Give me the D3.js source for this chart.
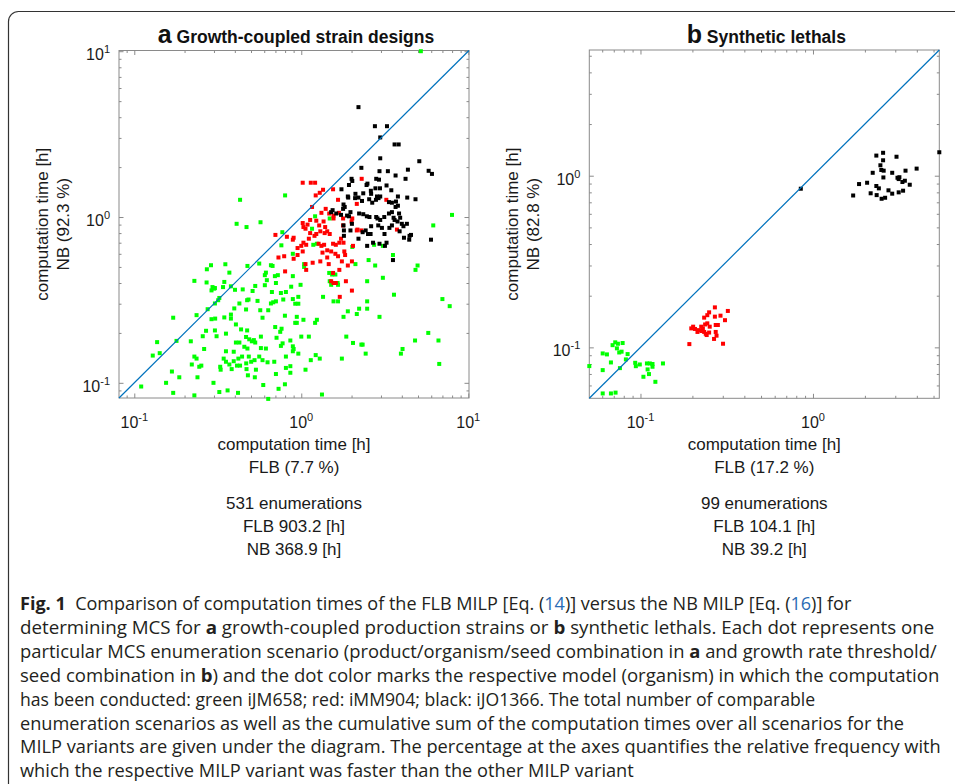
<!DOCTYPE html>
<html><head><meta charset="utf-8">
<script src="https://cdn.jsdelivr.net/npm/d3@7"></script>
<style>body{margin:0;background:#fff} svg{display:block}</style>
</head><body>
<svg id="c" width="955" height="784"></svg>
<script>
// ---------- DATA (hours: [FLB time, NB time]) ----------
const greenA = [
[0.43,1.27],[0.80,1.35],[0.41,0.91],[0.47,0.87],[0.57,0.93],
[5.2,10],[1.21,1.01],[1.48,0.98],[1.16,0.85],[7.99,1.03],[6.17,0.89],
[0.77,0.81],[0.76,0.675],[0.288,0.512],[0.272,0.484],[0.351,0.519],[0.371,0.462],[0.476,0.507],[0.56,0.524],[0.658,0.512],[0.673,0.507],[0.614,0.462],[0.605,0.446],[0.695,0.44],[0.724,0.446],[0.229,0.412],[0.271,0.403],[0.294,0.378],[0.301,0.37],[0.304,0.373],[0.29,0.361],[0.346,0.406],[0.34,0.378],[0.379,0.382],[0.401,0.364],[0.446,0.366],[0.53,0.384],[0.511,0.358],[0.605,0.388],[0.622,0.416],[0.705,0.4],[0.667,0.353],[0.809,0.353],
[0.323,0.325],[0.318,0.315],[0.304,0.301],[0.275,0.278],[0.236,0.256],[0.29,0.242],[0.305,0.244],[0.171,0.247],[0.379,0.258],[0.379,0.244],[0.346,0.248],[0.397,0.281],[0.426,0.301],[0.474,0.315],[0.483,0.318],[0.467,0.277],[0.547,0.312],[0.568,0.274],[0.586,0.247],[0.634,0.274],[0.658,0.301],[0.679,0.306],[0.705,0.31],[0.755,0.348],[0.78,0.318],[0.798,0.254],[0.698,0.217],
[0.257,0.191],[0.269,0.206],[0.304,0.207],[0.311,0.191],[0.354,0.198],[0.406,0.225],[0.436,0.21],[0.474,0.207],[0.218,0.178],[0.179,0.179],[0.137,0.176],[0.129,0.146],[0.142,0.151],[0.262,0.16],[0.406,0.175],[0.426,0.175],[0.467,0.189],[0.488,0.183],[0.506,0.178],[0.52,0.181],[0.53,0.175],[0.573,0.19],[0.573,0.162],[0.614,0.161],[0.711,0.187],[0.748,0.203],[0.762,0.212],[0.773,0.173],[0.755,0.167],
[0.354,0.155],[0.394,0.154],[0.456,0.165],[0.476,0.161],[0.485,0.144],[0.442,0.144],[0.42,0.14],[0.394,0.135],[0.343,0.14],[0.354,0.134],[0.371,0.129],[0.43,0.127],[0.468,0.131],[0.501,0.134],[0.525,0.137],[0.56,0.144],[0.586,0.137],[0.628,0.133],[0.689,0.134],[0.809,0.144],[0.809,0.123],[0.705,0.113],[0.535,0.12],[0.479,0.111],[0.47,0.121],[0.412,0.127],[0.327,0.125],[0.329,0.12],[0.383,0.121],[0.229,0.144],[0.236,0.14],[0.221,0.129],[0.245,0.125],[0.252,0.127],[0.168,0.117],[0.186,0.108],[0.155,0.1],[0.11,0.095],[0.171,0.087],[0.229,0.084],[0.239,0.108],[0.298,0.1],[0.323,0.088],[0.362,0.09],[0.418,0.087],[0.527,0.108],[0.592,0.097],[0.731,0.092],[0.798,0.098],[0.634,0.08],
[2.73,0.68],[3.08,0.67],[3.54,0.59],[2.53,0.55],[2.77,0.51],[2.11,0.52],[4.97,0.51],[4.83,0.48],[3.08,0.43],[2.48,0.41],[1.47,0.46],[1.53,0.45],[1.6,0.45],[1.48,0.41],[1.51,0.39],[1.66,0.39],[1.65,0.4],[0.89,0.6],[1.04,0.52],[1.04,0.5],[1.24,0.69],[1.18,0.68],[2.02,0.66],[0.89,0.44],[0.87,0.38],[0.99,0.39],[0.96,0.33],[0.89,0.32],[0.96,0.3],[0.92,0.3],[1.35,0.33],[1.56,0.31],[1.66,0.31],[2.48,0.31],[3.59,0.34],[7.0,0.32],[7.74,0.29],[1.9,0.27],[1.79,0.25],[2.22,0.28],[2.15,0.26],[2.48,0.28],[2.94,0.25],[0.94,0.25],[1.03,0.24],[0.92,0.23],[0.94,0.23],[1.21,0.23],[1.24,0.24],[5.76,0.2],[6.63,0.18],[1.0,0.19],[1.11,0.19],[1.86,0.19],[0.86,0.18],[2.04,0.174],[2.29,0.17],[2.33,0.17],[4.8,0.18],[4.04,0.16],[3.95,0.15],[2.43,0.15],[0.89,0.166],[0.9,0.16],[0.89,0.155],[0.96,0.15],[1.22,0.147],[1.29,0.14],[1.14,0.137],[1.75,0.14],[6.7,0.13],[0.86,0.126],[0.86,0.115],[1.06,0.12],[1.33,0.085]
];
const redA = [
[1.02,1.61],[1.14,1.61],[1.21,1.61],[1.35,1.46],[1.29,1.4],[1.22,1.35],[1.55,1.47],[1.66,1.27],[1.16,1.15],[1.4,1.12],[1.32,1.06],[2.15,1.2],[1.47,1.05],[1.56,1.02],[1.68,1.06],[1.56,0.98],[1.02,0.92],[1.09,0.9],[1.13,0.96],[1.23,0.95],[1.28,0.89],[1.36,0.94],[1.39,0.87],[1.78,0.98],[2.02,0.98],[2.0,0.94],[1.78,0.89],[1.06,0.85],[1.03,0.87],[2.17,0.84],[2.3,1.7],[3.23,1.27],
[0.89,0.73],[0.9,0.75],[1.03,0.7],[1.07,0.68],[1.0,0.67],[1.11,0.74],[1.13,0.8],[1.2,0.77],[1.23,0.79],[1.3,0.82],[1.38,0.8],[1.43,0.82],[1.48,0.79],[1.27,0.69],[1.32,0.67],[1.37,0.68],[1.43,0.63],[1.34,0.61],[1.55,0.69],[1.61,0.68],[1.73,0.74],[1.69,0.7],[1.79,0.7],[2.04,0.67],[1.51,0.62],[1.6,0.6],[1.66,0.58],[1.81,0.62],[1.83,0.59],[0.95,0.59],[0.9,0.56],[1.02,0.62],[1.06,0.52],[1.07,0.48],[1.17,0.53],[1.3,0.54],[1.75,0.54],[1.9,0.51],[2.01,0.54],[1.43,0.57],[1.46,0.52],[1.69,0.48],[1.55,0.46],[1.51,0.41],[1.56,0.4],[1.61,0.4],[1.85,0.41],[2.01,0.36],[1.7,0.33],[3.74,0.84],[2.15,0.83],[2.29,0.83],
[0.7,0.78],[0.73,0.57],[0.79,0.58],[0.8,0.47],[0.95,0.65],[0.82,0.76]
];
const blackA = [
[2.2,4.6],[2.76,3.53],[3.26,3.53],[2.97,3.02],[3.62,2.74],[3.83,2.74],[2.97,2.26],[5.09,2.17],[5.79,1.9],[6.06,1.82],[2.29,1.98],[4.35,1.93],[2.94,1.89],[3.3,1.89],[3.67,1.78],[4.21,1.7],[2.0,1.7],[2.02,1.65],[2.81,1.7],[2.92,1.68],[2.49,1.59],[2.46,1.56],[1.93,1.56],[3.24,1.55],[1.74,1.47],[2.78,1.49],[2.96,1.49],[3.46,1.45],[2.11,1.38],[2.35,1.39],[1.9,1.33],[1.91,1.31],[2.61,1.44],[2.62,1.38],[2.84,1.33],[2.9,1.3],[2.97,1.33],[2.8,1.27],[3.79,1.33],[4.31,1.31],[4.83,1.28],[2.1,1.3],[2.2,1.31],[2.31,1.25],[2.55,1.28],[2.66,1.22],[3.35,1.23],[3.49,1.22],[3.69,1.24],[3.79,1.17],[3.67,1.15],[1.79,1.19],[1.82,1.15],[1.78,1.12],[1.54,1.1],[1.51,1.07],[1.62,1.05],[1.73,1.03],[1.88,1.02],[1.97,1.07],[1.93,1.01],[2.22,1.05],[2.35,1.04],[2.47,1.01],[2.56,1.0],[2.81,1.0],[2.86,0.98],[2.97,0.96],[3.14,1.0],[3.35,1.05],[3.49,1.07],[3.57,0.99],[3.62,0.96],[3.85,1.05],[3.91,0.99],[3.77,0.94],[4.0,0.91],[4.29,0.91],[4.09,0.88],[2.62,0.88],[2.89,0.89],[3.04,0.86],[3.37,0.86],[3.49,0.89],[1.79,0.89],[2.01,0.91],
[1.8,0.83],[1.97,0.83],[1.8,0.77],[2.33,0.81],[2.43,0.83],[2.51,0.79],[2.6,0.79],[2.2,0.74],[3.15,0.79],[3.88,0.82],[4.12,0.75],[4.45,0.77],[4.54,0.78],[4.43,0.73],[5.98,0.73],[2.48,0.67],[2.69,0.7],[2.94,0.69],[3.24,0.7],[3.17,0.67],[3.54,0.55]
];
const greenB = [
[0.0505,0.0778],[0.0604,0.0922],[0.0639,0.091],[0.0604,0.0737],[0.0674,0.0817],[0.0689,0.103],[0.0714,0.107],[0.074,0.105],[0.0788,0.106],[0.073,0.0987],[0.0753,0.0934],[0.0777,0.0944],[0.0842,0.0914],[0.0823,0.0851],[0.076,0.0757],[0.0932,0.0813],[0.094,0.0777],[0.0991,0.0795],[0.109,0.0806],[0.1133,0.0806],[0.1174,0.08],[0.11,0.0744],[0.1174,0.0771],[0.112,0.0699],[0.104,0.0674],[0.122,0.063],[0.135,0.0806],[0.0604,0.0539],[0.0674,0.0539],[0.0717,0.0545]
];
const redB = [
[0.192,0.1045],[0.197,0.129],[0.202,0.132],[0.207,0.128],[0.214,0.123],[0.218,0.126],[0.225,0.132],[0.23,0.129],[0.237,0.136],[0.244,0.138],[0.226,0.1245],[0.234,0.123],[0.239,0.12],[0.242,0.118],[0.25,0.122],[0.234,0.149],[0.244,0.154],[0.25,0.16],[0.27,0.171],[0.27,0.151],[0.273,0.135],[0.281,0.135],[0.291,0.153],[0.309,0.144],[0.321,0.163],[0.273,0.123],[0.276,0.117],[0.267,0.112],[0.301,0.105],[0.252,0.132]
];
const blackB = [
[0.85,0.84],[5.4,1.37],[1.71,0.767],[1.85,0.894],[2.06,0.91],[2.16,0.79],[2.33,1.31],[2.55,1.36],[2.55,1.23],[2.46,1.15],[2.49,1.08],[2.57,1.07],[2.22,1.04],[2.33,0.871],[2.41,0.844],[2.34,0.771],[2.5,0.734],[2.62,0.744],[2.56,0.977],[2.74,0.822],[2.88,0.786],[2.88,1.04],[3.05,1.29],[3.09,0.973],[3.14,0.956],[3.17,0.98],[3.3,0.919],[3.41,0.935],[3.14,0.8],[3.33,0.818],[3.44,1.07],[3.64,0.886],[3.99,1.1]
];
const domainA = [0.081, 10.1];
const domainB = [0.0505, 5.4];
const titleA = ["a", "Growth-coupled strain designs"];
const titleB = ["b", "Synthetic lethals"];
const yLabelA = ["computation time [h]", "NB (92.3 %)"];
const yLabelB = ["computation time [h]", "NB (82.8 %)"];
const xLabelA = ["computation time [h]", "FLB (7.7 %)"];
const xLabelB = ["computation time [h]", "FLB (17.2 %)"];
const summaryA = ["531 enumerations", "FLB 903.2 [h]", "NB 368.9 [h]"];
const summaryB = ["99 enumerations", "FLB 104.1 [h]", "NB 39.2 [h]"];
const captionLines = [
  [{t:"Fig. 1", b:1},{t:"  Comparison of computation times of the FLB MILP [Eq. ("},{t:"14",c:1},{t:")] versus the NB MILP [Eq. ("},{t:"16",c:1},{t:")] for"}],
  [{t:"determining MCS for "},{t:"a",b:1},{t:" growth-coupled production strains or "},{t:"b",b:1},{t:" synthetic lethals. Each dot represents one"}],
  [{t:"particular MCS enumeration scenario (product/organism/seed combination in "},{t:"a",b:1},{t:" and growth rate threshold/"}],
  [{t:"seed combination in "},{t:"b",b:1},{t:") and the dot color marks the respective model (organism) in which the computation"}],
  [{t:"has been conducted: green iJM658; red: iMM904; black: iJO1366. The total number of comparable"}],
  [{t:"enumeration scenarios as well as the cumulative sum of the computation times over all scenarios for the"}],
  [{t:"MILP variants are given under the diagram. The percentage at the axes quantifies the relative frequency with"}],
  [{t:"which the respective MILP variant was faster than the other MILP variant"}]
];
const captionEnds = [852, 935, 937, 940, 816, 905, 941, 634];

// ---------- DRAWING ----------
const svg = d3.select("#c");
const FONT = "'Liberation Sans', Arial, Helvetica, sans-serif";
const CAPFONT = "'Open Sans', 'Noto Sans', sans-serif";
const AX = "#8a8a8a";
const LAB = "17px";

svg.append("rect").attr("x", 8.5).attr("y", 11.5).attr("width", 1200).attr("height", 1200)
  .attr("rx", 10).attr("fill", "none").attr("stroke", "#333").attr("stroke-width", 1.2);

function supLabel(g, x, y, exp, anchor) {
  const t = g.append("text").attr("x", x).attr("y", y).attr("text-anchor", anchor)
    .style("font-family", FONT).style("font-size", "16px").attr("fill", "#1a1a1a");
  t.append("tspan").text("10");
  t.append("tspan").text(exp).style("font-size", "11px").attr("dy", -7);
}

function panel(o) {
  const x = d3.scaleLog().domain(o.domain).range([o.left, o.right]);
  const y = d3.scaleLog().domain(o.domain).range([o.bottom, o.top]);
  const g = svg.append("g");
  const majors = [], minors = [];
  for (let k = -3; k <= 2; k++) for (let m = 1; m <= 9; m++) {
    const v = +(m * Math.pow(10, k)).toPrecision(3);
    if (v >= o.domain[0] && v <= o.domain[1]) (m === 1 ? majors : minors).push(v);
  }
  g.append("rect").attr("x", o.left).attr("y", o.top).attr("width", o.right - o.left)
    .attr("height", o.bottom - o.top).attr("fill", "#fff").attr("stroke", AX).attr("stroke-width", 1);
  const mk = (fn, sc, vals, size, tr) => {
    const a = g.append("g").attr("transform", tr)
      .call(fn(sc).tickValues(vals).tickSize(size).tickSizeOuter(0).tickFormat(""));
    a.select(".domain").remove();
    a.selectAll("line").attr("stroke", AX);
  };
  [[majors, -4.5], [minors, -2.5]].forEach(([vals, s]) => {
    mk(d3.axisBottom, x, vals, s, `translate(0,${o.bottom})`);
    mk(d3.axisTop, x, vals, s, `translate(0,${o.top})`);
    mk(d3.axisLeft, y, vals, s, `translate(${o.left},0)`);
    mk(d3.axisRight, y, vals, s, `translate(${o.right},0)`);
  });
  majors.forEach(v => {
    const e = String(Math.round(Math.log10(v)));
    supLabel(g, x(v), o.bottom + 30, e, "middle");
    supLabel(g, o.left - 9, y(v) + 9, e, "end");
  });
  const series = [[o.green, "#00ff00"], [o.red, "#ff0000"], [o.black, "#000000"]];
  series.forEach(([data, col]) => {
    g.append("g").selectAll("rect").data(data).join("rect")
      .attr("x", d => x(d[0]) - 2).attr("y", d => y(d[1]) - 2)
      .attr("width", 4).attr("height", 4).attr("fill", col);
  });
  g.append("line").attr("x1", x(o.domain[0])).attr("y1", y(o.domain[0]))
    .attr("x2", x(o.domain[1])).attr("y2", y(o.domain[1]))
    .attr("stroke", "#0072BD").attr("stroke-width", 1.2);
  // title
  const cx = (o.left + o.right) / 2;
  const tt = g.append("text").attr("x", cx + 2).attr("y", 43).attr("text-anchor", "middle")
    .style("font-family", FONT).style("font-weight", "bold").attr("fill", "#111");
  tt.append("tspan").text(o.title[0]).style("font-size", "25px");
  tt.append("tspan").text(" " + o.title[1]).style("font-size", "17.5px");
  // y label
  const cy = (o.top + o.bottom) / 2;
  o.ylab.forEach((s, i) => {
    g.append("text").attr("transform", `translate(${o.left - 71 + i * 21},${cy}) rotate(-90)`)
      .attr("text-anchor", "middle").style("font-family", FONT).style("font-size", LAB)
      .attr("fill", "#1a1a1a").text(s);
  });
  o.xlab.concat([""]).concat(o.summary).forEach((s, i) => {
    if (!s) return;
    const yy = i < 2 ? 450 + i * 23 : 509 + (i - 3) * 23;
    g.append("text").attr("x", cx).attr("y", yy).attr("text-anchor", "middle")
      .style("font-family", FONT).style("font-size", LAB).attr("fill", "#1a1a1a").text(s);
  });
}

panel({left: 119, right: 469, top: 50.5, bottom: 398, domain: domainA,
  green: greenA, red: redA, black: blackA, title: titleA, ylab: yLabelA, xlab: xLabelA, summary: summaryA});
panel({left: 589.3, right: 939.3, top: 50, bottom: 398.3, domain: domainB,
  green: greenB, red: redB, black: blackB, title: titleB, ylab: yLabelB, xlab: xLabelB, summary: summaryB});

// caption
const capX = 20, capY0 = 610, capDY = 23.9;
captionLines.forEach((segs, i) => {
  const t = svg.append("text").style("font-family", CAPFONT).style("font-size", "17.5px")
    .style("white-space", "pre").attr("fill", "#231f20");
  segs.forEach(s => {
    const sp = t.append("tspan").text(s.t);
    if (s.b) sp.style("font-weight", "bold");
    if (s.c) sp.attr("fill", "#2a6cb5");
  });
  const w = t.node().getComputedTextLength();
  const sx = (captionEnds[i] - capX) / w;
  t.attr("transform", `translate(${capX},${capY0 + i * capDY}) scale(${sx},1)`);
});
</script>
</body></html>
